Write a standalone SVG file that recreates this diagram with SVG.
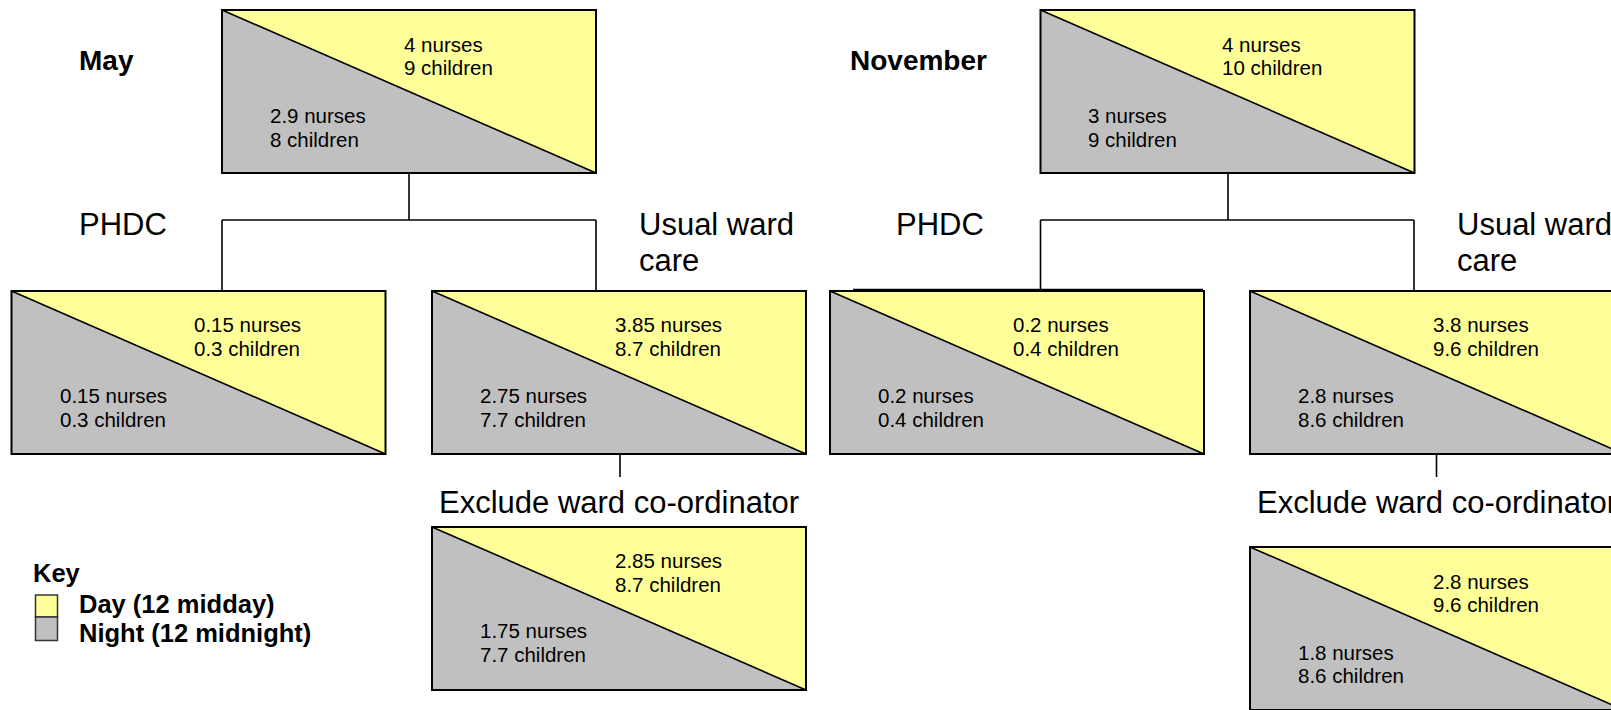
<svg xmlns="http://www.w3.org/2000/svg" xmlns:xlink="http://www.w3.org/1999/xlink" width="1611" height="710" viewBox="0 0 1611 710">
<style>
.t{font-family:"Liberation Sans",Arial,sans-serif;font-size:20.5px;fill:#000}
.lab{font-family:"Liberation Sans",Arial,sans-serif;font-size:31px;fill:#000}
.hd{font-family:"Liberation Sans",Arial,sans-serif;font-size:28px;font-weight:bold;fill:#000}
.key{font-family:"Liberation Sans",Arial,sans-serif;font-size:25.5px;font-weight:bold;fill:#000}
.conn line{stroke:#000;stroke-width:1.6;fill:none}
</style>
<defs>
<g id="split">
<rect x="0" y="0" width="374" height="163" fill="#C0C0C0"/>
<polygon points="0,0 374,0 374,163" fill="#FFFF99"/>
<line x1="0" y1="0" x2="374" y2="163" stroke="#000" stroke-width="1.6"/>
<rect x="0" y="0" width="374" height="163" fill="none" stroke="#000" stroke-width="2"/>
</g>
</defs>
<rect width="1611" height="710" fill="#fff"/>

<g id="labels">
<text class="hd" x="79" y="70">May</text>
<text class="hd" x="850" y="70">November</text>
<text class="lab" x="79" y="235">PHDC</text>
<text class="lab" x="639" y="235">Usual ward</text>
<text class="lab" x="639" y="271">care</text>
<text class="lab" x="896" y="235">PHDC</text>
<text class="lab" x="1457" y="235">Usual ward</text>
<text class="lab" x="1457" y="271">care</text>
<text class="lab" x="439" y="513">Exclude ward co-ordinator</text>
<text class="lab" x="1257" y="513">Exclude ward co-ordinator</text>
</g>

<g id="connectors" class="conn">
<line x1="409" y1="173" x2="409" y2="220"/>
<line x1="222" y1="220" x2="596" y2="220"/>
<line x1="222" y1="220" x2="222" y2="290"/>
<line x1="596" y1="220" x2="596" y2="290"/>
<line x1="620" y1="455" x2="620" y2="477"/>
<line x1="1228" y1="173" x2="1228" y2="220"/>
<line x1="1040.5" y1="220" x2="1414" y2="220"/>
<line x1="1040.5" y1="220" x2="1040.5" y2="290"/>
<line x1="1414" y1="220" x2="1414" y2="290"/>
<line x1="1436.5" y1="455" x2="1436.5" y2="477"/>
<line x1="853" y1="289.6" x2="1203" y2="289.6"/>
</g>

<g id="may-total">
<use xlink:href="#split" x="222" y="10"/>
<text class="t" x="404" y="52">4 nurses</text>
<text class="t" x="404" y="75">9 children</text>
<text class="t" x="270" y="123">2.9 nurses</text>
<text class="t" x="270" y="147">8 children</text>
</g>

<g id="may-phdc">
<use xlink:href="#split" x="11.5" y="291"/>
<text class="t" x="194" y="332">0.15 nurses</text>
<text class="t" x="194" y="356">0.3 children</text>
<text class="t" x="60" y="403">0.15 nurses</text>
<text class="t" x="60" y="427">0.3 children</text>
</g>

<g id="may-usual">
<use xlink:href="#split" x="432" y="291"/>
<text class="t" x="615" y="332">3.85 nurses</text>
<text class="t" x="615" y="356">8.7 children</text>
<text class="t" x="480" y="403">2.75 nurses</text>
<text class="t" x="480" y="427">7.7 children</text>
</g>

<g id="may-exclude">
<use xlink:href="#split" x="432" y="527"/>
<text class="t" x="615" y="568">2.85 nurses</text>
<text class="t" x="615" y="592">8.7 children</text>
<text class="t" x="480" y="638">1.75 nurses</text>
<text class="t" x="480" y="662">7.7 children</text>
</g>

<g id="nov-total">
<use xlink:href="#split" x="1040.5" y="10"/>
<text class="t" x="1222" y="52">4 nurses</text>
<text class="t" x="1222" y="75">10 children</text>
<text class="t" x="1088" y="123">3 nurses</text>
<text class="t" x="1088" y="147">9 children</text>
</g>

<g id="nov-phdc">
<use xlink:href="#split" x="830" y="291"/>
<text class="t" x="1013" y="332">0.2 nurses</text>
<text class="t" x="1013" y="356">0.4 children</text>
<text class="t" x="878" y="403">0.2 nurses</text>
<text class="t" x="878" y="427">0.4 children</text>
</g>

<g id="nov-usual">
<use xlink:href="#split" x="1250" y="291"/>
<text class="t" x="1433" y="332">3.8 nurses</text>
<text class="t" x="1433" y="356">9.6 children</text>
<text class="t" x="1298" y="403">2.8 nurses</text>
<text class="t" x="1298" y="427">8.6 children</text>
</g>

<g id="nov-exclude">
<use xlink:href="#split" x="1250" y="547"/>
<text class="t" x="1433" y="589">2.8 nurses</text>
<text class="t" x="1433" y="612">9.6 children</text>
<text class="t" x="1298" y="660">1.8 nurses</text>
<text class="t" x="1298" y="683">8.6 children</text>
</g>

<g id="key">
<text class="key" x="33" y="582">Key</text>
<rect x="35.5" y="595" width="22" height="22" fill="#FFFF99" stroke="#333" stroke-width="1.5"/>
<rect x="35.5" y="617" width="22" height="23.5" fill="#C0C0C0" stroke="#333" stroke-width="1.5"/>
<text class="key" x="79" y="613">Day (12 midday)</text>
<text class="key" x="79" y="642">Night (12 midnight)</text>
</g>
</svg>
